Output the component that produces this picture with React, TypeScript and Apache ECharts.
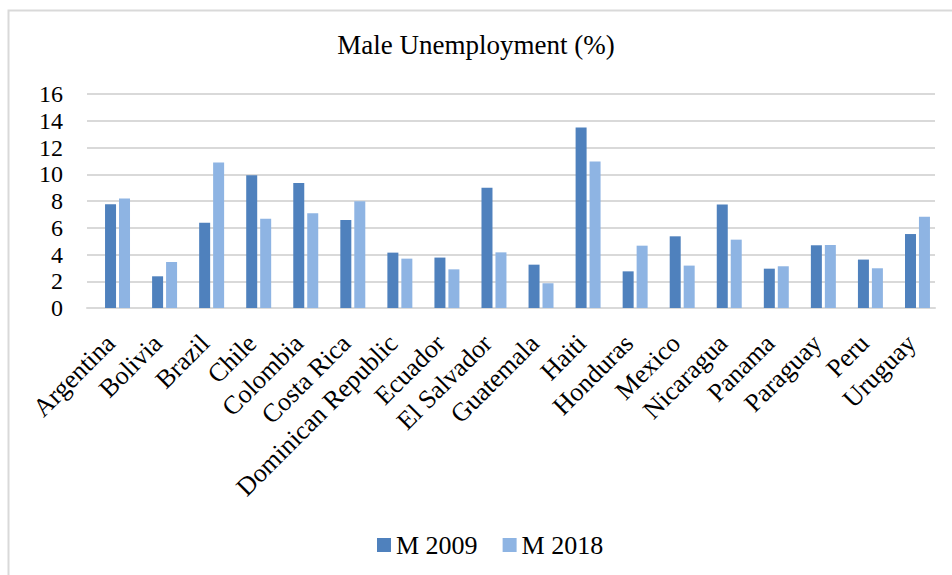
import React, { useEffect, useRef } from "react";
import * as echarts from "echarts";

const categories = [
  "Argentina", "Bolivia", "Brazil", "Chile", "Colombia", "Costa Rica",
  "Dominican Republic", "Ecuador", "El Salvador", "Guatemala", "Haiti",
  "Honduras", "Mexico", "Nicaragua", "Panama", "Paraguay", "Peru", "Uruguay",
];
const m2009 = [7.75, 2.37, 6.38, 9.92, 9.35, 6.58, 4.14, 3.77, 9.0, 3.24, 13.49, 2.74, 5.36, 7.73, 2.94, 4.69, 3.62, 5.53];
const m2018 = [8.18, 3.44, 10.87, 6.68, 7.08, 7.98, 3.69, 2.89, 4.16, 1.85, 10.95, 4.66, 3.17, 5.11, 3.12, 4.71, 2.97, 6.83];
const yTicks = [0, 2, 4, 6, 8, 10, 12, 14, 16];
const seriesNames = ["M 2009", "M 2018"];
const title = "Male Unemployment (%)";

const FONT = "'Liberation Serif', 'Times New Roman', serif";

export default function App() {
  const ref = useRef<HTMLDivElement>(null);
  useEffect(() => {
    if (!ref.current) return;
    const chart = echarts.init(ref.current, null, { renderer: "svg" });
    const yMin = yTicks[0];
    const yMax = yTicks[yTicks.length - 1];
    chart.setOption({
      animation: false,
      backgroundColor: "#ffffff",
      textStyle: { fontFamily: FONT, color: "#000" },
      title: {
        text: title,
        left: "center",
        top: 26,
        textStyle: { fontFamily: FONT, fontSize: 27, fontWeight: "normal", color: "#000" },
      },
      legend: {
        data: seriesNames,
        top: 527,
        left: 372,
        itemWidth: 14,
        itemHeight: 14,
        itemGap: 25,
        icon: "rect",
        textStyle: { fontFamily: FONT, fontSize: 26, color: "#000" },
      },
      grid: [
        { left: 87, right: 17, top: 94, bottom: 267, containLabel: false },
        { left: 94, right: 11, top: 94, bottom: 267, containLabel: false },
      ],
      xAxis: [
        {
          type: "category",
          gridIndex: 0,
          data: categories,
          axisTick: { show: false },
          axisLine: { show: true, lineStyle: { color: "#d9d9d9", width: 2 } },
          axisLabel: {
            rotate: 45,
            interval: 0,
            margin: 31,
            fontFamily: FONT,
            fontSize: 26,
            color: "#000",
          },
        },
        {
          type: "category",
          gridIndex: 1,
          data: categories,
          axisTick: { show: false },
          axisLine: { show: false },
          axisLabel: { show: false },
        },
      ],
      yAxis: [
        {
          type: "value",
          gridIndex: 0,
          min: yMin,
          max: yMax,
          interval: 2,
          axisLine: { show: false },
          axisTick: { show: false },
          splitLine: { lineStyle: { color: "#d9d9d9", width: 2 } },
          axisLabel: { fontFamily: FONT, fontSize: 24, color: "#000", margin: 24 },
        },
        {
          type: "value",
          gridIndex: 1,
          min: yMin,
          max: yMax,
          interval: 2,
          show: false,
          splitLine: { show: false },
        },
      ],
      series: [
        {
          name: seriesNames[0],
          type: "bar",
          xAxisIndex: 1,
          yAxisIndex: 1,
          data: m2009,
          barWidth: 11,
          barGap: "27%",
          itemStyle: { color: "#4f81bd" },
        },
        {
          name: seriesNames[1],
          type: "bar",
          xAxisIndex: 1,
          yAxisIndex: 1,
          data: m2018,
          barWidth: 11,
          itemStyle: { color: "#8eb4e3" },
        },
      ],
      graphic: [
        {
          type: "rect",
          shape: { x: 8.5, y: 10.5, width: 980, height: 620 },
          style: { fill: "none", stroke: "#d9d9d9", lineWidth: 2 },
          silent: true,
        },
      ],
    });
    return () => chart.dispose();
  }, []);
  return (
    <div
      ref={ref}
      style={{ position: "absolute", left: 0, top: 0, width: 952, height: 575 }}
    />
  );
}
